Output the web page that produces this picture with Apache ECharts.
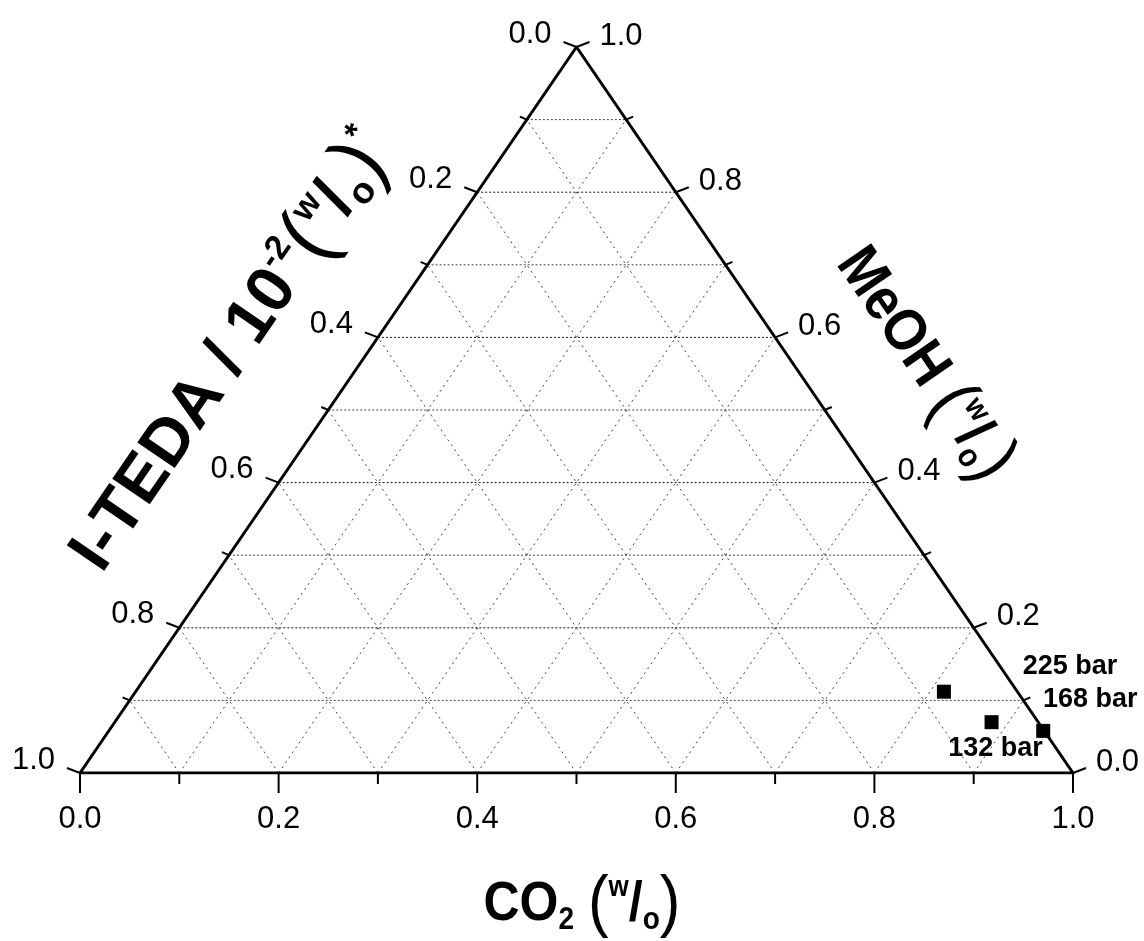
<!DOCTYPE html>
<html>
<head>
<meta charset="utf-8">
<script src="https://cdn.jsdelivr.net/npm/echarts@6/dist/echarts.min.js"></script>
<style>
  html, body { margin: 0; padding: 0; background: #fff; }
  #chart { width: 1144px; height: 941px; }
</style>
</head>
<body>
<div id="chart"></div>
<script>
// Ternary phase data for CO2 / MeOH / I-TEDA (mass fractions, I-TEDA scaled by 10^-2)
const pressures = ['225 bar', '132 bar', '168 bar'];
const co2Frac   = [0.814, 0.883, 0.941];
const meohFrac  = [0.112, 0.070, 0.058];
const itedaFrac = [0.074, 0.047, 0.001];

// Axis ticks (same scale on all three sides) and their labels
const tickValues = [0.0, 0.1, 0.2, 0.3, 0.4, 0.5, 0.6, 0.7, 0.8, 0.9, 1.0];
const tickLabels = ['0.0', '0.2', '0.4', '0.6', '0.8', '1.0'];
const gridLevels = [0.1, 0.2, 0.3, 0.4, 0.5, 0.6, 0.7, 0.8, 0.9];

const FONT = '"Liberation Sans", Arial, Helvetica, sans-serif';

// Ternary (CO2 c, MeOH m) -> plane (x, y); I-TEDA = 1 - c - m sits at the lower-left corner
function toXY(c, m) { return [c + m / 2, m]; }

const isMajor = v => Math.abs(v * 5 - Math.round(v * 5)) < 1e-6;

// Dotted grid: constant MeOH (horizontal), constant CO2 and constant I-TEDA
const gridSeries = {
  type: 'custom',
  coordinateSystem: 'cartesian2d',
  silent: true,
  z: 1,
  data: gridLevels.map(v => [v, v]),
  renderItem(params, api) {
    const v = api.value(0);
    const P = (c, m) => api.coord(toXY(c, m));
    const hStyle = { stroke: isMajor(v) ? '#111' : '#444', lineWidth: 1, lineDash: [2, 2], fill: null };
    const dStyle = { stroke: '#444', lineWidth: 1, lineDash: [2, 4], fill: null };
    const seg = (a, b, style) => ({ type: 'line', shape: { x1: a[0], y1: a[1], x2: b[0], y2: b[1] }, style });
    return {
      type: 'group',
      children: [
        seg(P(0, v), P(1 - v, v), hStyle),
        seg(P(v, 0), P(v, 1 - v), dStyle),
        seg(P(1 - v, 0), P(0, 1 - v), dStyle)
      ]
    };
  }
};

// Triangle outline through the three pure-component corners
const corners = [
  { c: 0, m: 0 },  // pure I-TEDA
  { c: 1, m: 0 },  // pure CO2
  { c: 0, m: 1 },  // pure MeOH
  { c: 0, m: 0 }
];
const frameSeries = {
  type: 'line',
  silent: true,
  z: 3,
  symbol: 'none',
  lineStyle: { color: '#000', width: 3, join: 'round' },
  data: corners.map(p => toXY(p.c, p.m))
};

// Ticks and tick labels on the three sides
const tickSeries = {
  type: 'custom',
  coordinateSystem: 'cartesian2d',
  silent: true,
  z: 4,
  data: tickValues.map(v => [v, isMajor(v) ? 1 : 0]),
  renderItem(params, api) {
    const v = api.value(0);
    const major = api.value(1) === 1;
    const P = (c, m) => api.coord(toXY(c, m));
    const down = major ? 20 : 11;
    const side = major ? 13 : 7;
    const rise = major ? 5 : 3;
    const tick = { stroke: '#000', lineWidth: 2, fill: null };
    const seg = (x1, y1, x2, y2) => ({ type: 'line', shape: { x1, y1, x2, y2 }, style: tick });
    const text = (x, y, str, align) => ({
      type: 'text', x, y,
      style: {
        text: str, fill: '#000', fontSize: 31, fontFamily: FONT,
        align, textAlign: align, verticalAlign: 'middle', textVerticalAlign: 'middle'
      }
    });
    const kids = [];
    const b = P(v, 0);          // CO2 axis (bottom)
    const l = P(0, 1 - v);      // I-TEDA axis (left), 0 at the apex
    const r = P(1 - v, v);      // MeOH axis (right)
    kids.push(seg(b[0], b[1], b[0], b[1] + down));
    kids.push(seg(l[0], l[1], l[0] - side, l[1] - rise));
    kids.push(seg(r[0], r[1], r[0] + side, r[1] - rise));
    if (major) {
      const lab = tickLabels[Math.round(v * 5)];
      kids.push(text(b[0], b[1] + 46, lab, 'center'));
      kids.push(text(l[0] - 25, l[1] - 13, lab, 'right'));
      kids.push(text(r[0] + 23, r[1] - 11, lab, 'left'));
    }
    return { type: 'group', children: kids };
  }
};

// Measured compositions, labelled with the pressure
const labelOffsets = [[126, -25], [4, 26], [47, -31]];
const pointSeries = {
  type: 'scatter',
  z: 5,
  symbol: 'rect',
  symbolSize: 14,
  itemStyle: { color: '#000', opacity: 1 },
  label: {
    show: true, position: 'inside', formatter: '{b}',
    color: '#000', fontSize: 27, fontWeight: 'bold', fontFamily: FONT
  },
  data: co2Frac.map((c, i) => ({
    name: pressures[i],
    value: toXY(c, meohFrac[i]),
    iteda: itedaFrac[i],
    label: { offset: labelOffsets[i] }
  }))
};

// Axis titles with super-/subscripts
function titleRich(size) {
  const s = size / 50;
  return {
    b:   { fontSize: 50 * s, fontWeight: 'bold', fontFamily: FONT, lineHeight: 56 * s, fill: '#000', color: '#000' },
    p:   { fontSize: 62 * s, fontWeight: 'normal', fontFamily: FONT, lineHeight: 56 * s, fill: '#000', color: '#000' },
    sup: { fontSize: 26 * s, fontWeight: 'bold', fontFamily: FONT, lineHeight: 26 * s, verticalAlign: 'top', fill: '#000', color: '#000' },
    sub: { fontSize: 28 * s, fontWeight: 'bold', fontFamily: FONT, lineHeight: 26 * s, verticalAlign: 'bottom', fill: '#000', color: '#000' }
  };
}
const edgeAngle = Math.atan2(726, 497);
function title(x, y, rotation, size, stretch, str) {
  return {
    type: 'text', x, y, rotation, scaleY: stretch, silent: true, z: 10,
    style: {
      text: str, rich: titleRich(size), fill: '#000',
      align: 'center', textAlign: 'center', verticalAlign: 'middle', textVerticalAlign: 'middle'
    }
  };
}

const chart = echarts.init(document.getElementById('chart'), null, { renderer: 'canvas' });
chart.setOption({
  animation: false,
  backgroundColor: '#fff',
  grid: { left: 80, right: 71, top: 47, bottom: 168 },
  xAxis: { type: 'value', min: 0, max: 1, show: false },
  yAxis: { type: 'value', min: 0, max: 1, show: false },
  series: [gridSeries, frameSeries, tickSeries, pointSeries],
  graphic: [
    title(232, 352, edgeAngle, 66, 1.0, '{b|I-TEDA / 10}{sup|-2}{p|(}{sup|w}{b|/}{sub|o}{p|)}{sup|*}'),
    title(924, 364, -edgeAngle, 53, 1.12, '{b|MeOH }{p|(}{sup|w}{b|/}{sub|o}{p|)}'),
    title(582, 905, 0, 50, 1.12, '{b|CO}{sub|2}{b| }{p|(}{sup|w}{b|/}{sub|o}{p|)}')
  ]
});
</script>
</body>
</html>
